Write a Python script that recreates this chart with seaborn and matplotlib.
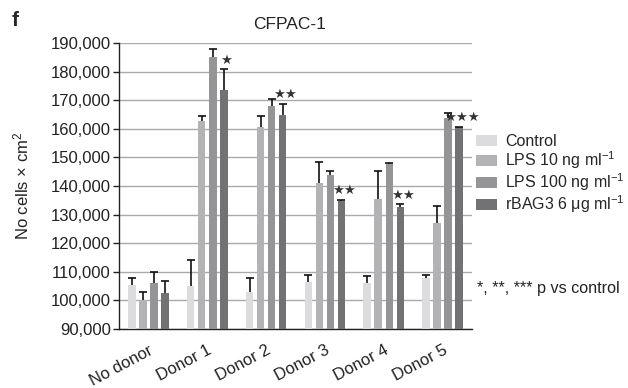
import matplotlib
matplotlib.use("Agg")
import matplotlib.pyplot as plt
import seaborn as sns
import pandas as pd
import numpy as np
from matplotlib.patches import Patch

groups = ["No donor", "Donor 1", "Donor 2", "Donor 3", "Donor 4", "Donor 5"]
conditions = ["Control", "LPS 10 ng ml$^{-1}$", "LPS 100 ng ml$^{-1}$", "rBAG3 6 \u03bcg ml$^{-1}$"]
control = [105300, 104900, 103000, 106500, 106000, 108000]
control_err = [2700, 9100, 5000, 2300, 2500, 800]
lps10 = [100100, 162700, 160800, 141200, 135400, 127200]
lps10_err = [2900, 1800, 3600, 7200, 10000, 5700]
lps100 = [106000, 185000, 167900, 144000, 147700, 163700]
lps100_err = [4100, 2800, 2400, 1300, 200, 1900]
rbag3 = [102700, 173400, 165000, 134900, 132800, 160500]
rbag3_err = [4000, 7400, 3700, 300, 800, 200]
signif = [0, 1, 2, 2, 2, 3]
yticks = list(range(90000, 190001, 10000))
colors = ["#dcdcde", "#b3b3b5", "#959597", "#727274"]

sns.set_theme(style="white")
plt.rcParams["font.family"] = ["Liberation Sans", "DejaVu Sans"]
plt.rcParams["mathtext.fontset"] = "custom"
plt.rcParams["mathtext.rm"] = "Liberation Sans"
plt.rcParams["mathtext.it"] = "Liberation Sans:italic"
plt.rcParams["mathtext.bf"] = "Liberation Sans:bold"

series = [control, lps10, lps100, rbag3]
errs = [control_err, lps10_err, lps100_err, rbag3_err]
rows = []
for cond, vals in zip(conditions, series):
    for g, v in zip(groups, vals):
        rows.append({"group": g, "cond": cond, "value": v})
df = pd.DataFrame(rows)

fig = plt.figure(figsize=(6.28, 3.88), dpi=100)
ax = fig.add_axes([119/628, 1-329/388, (472-119)/628, (329-43)/388])

sns.barplot(data=df, x="group", y="value", hue="cond", order=groups,
            hue_order=conditions, palette=colors, gap=0.32, width=0.75,
            errorbar=None, legend=False, ax=ax, zorder=3, linewidth=0,
            saturation=1)

bar_containers = list(ax.containers)
for cont, vals, er in zip(bar_containers, series, errs):
    xs = [p.get_x() + p.get_width()/2 for p in cont.patches]
    eb = ax.errorbar(xs, vals, yerr=[np.zeros(len(vals)), er], fmt="none",
                     ecolor="#111111", elinewidth=1.2, capsize=2.7, capthick=1.2,
                     zorder=4)
    eb[1][0].set_visible(False)  # hide lower caps

last = bar_containers[-1]
for p, v, e, n in zip(last.patches, rbag3, rbag3_err, signif):
    if n:
        ax.text(p.get_x() + p.get_width()/2 + 0.04, v + e + 1000, "\u2605" * n,
                ha="center", va="bottom", fontsize=9.5, color="#333333",
                family="DejaVu Sans")

ax.set_ylim(90000, 190000)
ax.set_xlim(-0.5, 5.5)
ax.set_yticks(yticks)
ax.set_yticklabels([f"{t:,}" for t in yticks], fontsize=12, color="#222222")
ax.yaxis.grid(True, color="#aaaaaa", linewidth=1.0, zorder=0)
ax.set_axisbelow(True)
for side in ["top", "right"]:
    ax.spines[side].set_visible(False)
for side in ["left", "bottom"]:
    ax.spines[side].set_color("#222222")
    ax.spines[side].set_linewidth(1.0)
ax.tick_params(axis="y", left=True, length=4, width=1, color="#222222", pad=2)
ax.tick_params(axis="x", bottom=False, pad=4)
ax.set_xticks(range(len(groups)))
ax.set_xticklabels(groups, rotation=28, ha="right", rotation_mode="anchor",
                   fontsize=12, color="#222222")
ax.set_xlabel("")
ax.set_ylabel("No cells \u00d7 cm$^2$", fontsize=12, color="#222222", labelpad=14)
ax.set_title("CFPAC-1", fontsize=12.5, color="#222222", pad=10, x=0.482)

fig.text(12/628, 1-21/388, "f", fontsize=15, fontweight="bold", ha="left", va="center")

handles = [Patch(facecolor=c, edgecolor="none") for c in colors]
fig.legend(handles, conditions, loc="upper left", bbox_to_anchor=(476/628, 1-134/388),
           frameon=False, fontsize=11.5, handlelength=1.3, handleheight=0.75,
           handletextpad=0.5, labelspacing=0.02, borderpad=0, borderaxespad=0)

fig.text(477/628, 1-289/388, "*, **, *** p vs control", fontsize=11.6, ha="left",
         va="center", color="#222222")

fig.savefig("out.png", dpi=100)
